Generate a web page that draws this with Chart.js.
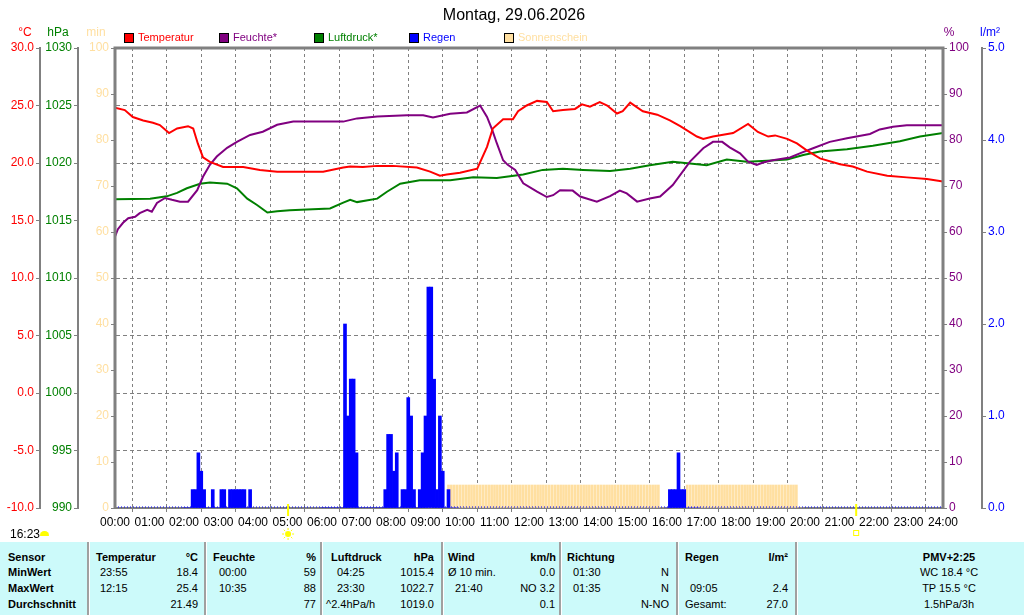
<!DOCTYPE html>
<html lang="de">
<head>
<meta charset="utf-8">
<title>Montag, 29.06.2026</title>
<script src="https://cdn.jsdelivr.net/npm/chart.js@4.4.1/dist/chart.umd.min.js"></script>
<style>
  html, body { margin: 0; padding: 0; background: #fff; }
  body { width: 1024px; height: 615px; overflow: hidden; position: relative;
         font-family: "Liberation Sans", Arial, sans-serif; color: #000; }
  #wrap { position: absolute; left: 0; top: 2px; width: 1024px; height: 542px; }
  .t { position: absolute; white-space: nowrap; font-size: 11px; line-height: 13px; }
  .c { transform: translateX(-50%); }
  .b { font-weight: bold; }
  #title { position: absolute; left: 2px; top: 6px; width: 1024px; text-align: center; font-size: 16px; }
  .unit { font-size: 12px; top: 26px; }
  .sq { position: absolute; top: 33px; width: 8px; height: 8px; border: 1px solid #000; }
  #table { position: absolute; left: 0; top: 542px; width: 1024px; height: 73px; background: #ccfafa; }
  .sep { position: absolute; top: 0; width: 2px; height: 73px; background: #a0a0a0; border-right: 1px solid #fff; }
</style>
</head>
<body>
<div id="wrap"><canvas id="chart" width="1024" height="542"></canvas></div>
<div id="title">Montag, 29.06.2026</div>
<div id="overlay"></div>
<div class="t" style="left:10px; top:528px; font-size:12px;">16:23</div>
<div style="position:absolute; left:40px; top:531px; width:9px; height:5px; background:#ffff00; border-radius:5px 5px 1px 1px;"></div>
<div id="table"></div>
<script>
// temperature (°C)
const tempTimes = ['00:00','00:17','00:31','00:49','01:06','01:18','01:34','01:48','02:07','02:16','02:24','02:33','02:45','03:08','03:43','04:12','04:42','06:02','06:37','06:49','07:11','07:36','08:03','08:45','09:08','09:25','09:37','10:00','10:30','10:47','10:57','11:15','11:32','11:41','11:56','12:14','12:31','12:42','12:59','13:20','13:32','13:46','14:03','14:16','14:33','14:43','14:56','15:18','15:43','16:05','16:23','16:52','17:03','17:20','17:55','18:21','18:38','18:56','19:08','19:29','19:46','20:03','20:26','21:01','21:23','21:48','22:23','22:57','23:32','24:00'];
const tempValues = [24.8,24.6,24.0,23.7,23.5,23.3,22.6,23.0,23.2,23.0,21.7,20.5,20.1,19.65,19.65,19.4,19.25,19.25,19.6,19.7,19.65,19.75,19.75,19.6,19.25,18.9,19.0,19.15,19.5,21.4,23.0,23.8,23.8,24.5,25.0,25.4,25.3,24.5,24.6,24.7,25.1,24.9,25.3,25.0,24.3,24.5,25.25,24.5,24.2,23.7,23.2,22.3,22.1,22.3,22.6,23.4,22.7,22.3,22.4,22.1,21.7,21.1,20.4,19.9,19.7,19.25,18.9,18.75,18.6,18.4];

// humidity (%)
const humTimes = ['00:00','00:05','00:14','00:23','00:35','00:43','00:56','01:04','01:13','01:27','01:39','01:53','02:07','02:23','02:33','02:45','02:57','03:15','03:32','03:55','04:17','04:42','05:10','06:37','07:01','07:36','08:28','08:56','09:13','09:43','10:12','10:35','10:47','10:56','11:04','11:15','11:23','11:36','11:50','12:14','12:31','12:42','12:54','13:16','13:29','13:58','14:21','14:38','14:50','15:08','15:30','15:48','16:10','16:40','17:03','17:20','17:36','17:49','18:07','18:21','18:36','18:47','19:04','19:34','19:51','20:14','20:43','21:13','21:53','22:10','22:33','22:57','24:00'];
const humValues = [59,60.6,62,63,63.3,64.1,64.8,64.4,66.3,67.4,67,66.6,66.6,69.1,72,74.6,76.4,78.3,79.6,81.1,81.8,83.3,84,84,84.7,85.1,85.4,85.4,84.9,85.7,86,87.5,85,82.2,79.3,75.6,74.6,73.5,70.6,68.8,67.6,68,69.1,69,67.7,66.6,67.8,69,68.4,66.6,67.3,67.7,70.2,75.3,78.2,79.6,79.6,78.4,77.1,75.3,74.6,75.1,75.6,76.2,77.1,78.2,79.6,80.4,81.3,82.3,82.9,83.2,83.2];

// air pressure (hPa)
const presTimes = ['00:00','01:01','01:30','01:48','02:05','02:28','02:45','03:15','03:32','03:50','04:07','04:25','04:42','05:04','06:14','06:37','06:49','07:01','07:36','07:53','08:16','08:50','09:43','10:23','11:04','11:50','12:24','12:59','13:34','14:21','14:56','15:30','16:10','16:40','17:09','17:44','18:19','18:54','19:29','19:57','20:26','21:13','21:58','22:45','23:20','24:00'];
const presValues = [1016.85,1016.9,1017.1,1017.4,1017.8,1018.2,1018.3,1018.2,1017.8,1016.9,1016.35,1015.7,1015.8,1015.9,1016.05,1016.55,1016.8,1016.6,1016.9,1017.5,1018.2,1018.5,1018.5,1018.75,1018.7,1019.0,1019.4,1019.5,1019.4,1019.3,1019.5,1019.8,1020.1,1019.95,1019.8,1020.3,1020.1,1020.2,1020.3,1020.7,1021.0,1021.2,1021.5,1021.9,1022.3,1022.6];

// rain (l/m² per 5 min), one row per hour, slots :00 .. :55
const rainHours = ['02','03','06','07','08','09','16'];
const rainRows = [
  [0,0,0,0.2,0.2,0.6,0.4,0.2,0,0,0.2,0],
  [0,0.2,0.2,0,0.2,0.2,0.2,0.2,0.2,0.2,0,0.2],
  [0,0,0,0,0,0,0,0,2.0,1.0,1.4,1.4],
  [0.6,0,0,0,0,0,0,0,0,0,0.2,0.8],
  [0.8,0.4,0.6,0,0.2,0.2,1.2,1.0,0.2,0,0.2,0.6],
  [1.0,2.4,2.4,1.4,0.2,1.0,0.4,0,0.2,0,0,0],
  [0,0.2,0.2,0.2,0.6,0.2,0.2,0,0,0,0,0]
];

// sunshine (min per 5 min), one row per hour
const sunHours = ['09','10','11','12','13','14','15','16','17','18','19'];
const sunRows = [
  [0,0,0,0,0,0,0,0,5,5,5,5],
  [5,5,5,5,5,5,5,5,5,5,5,5],
  [5,5,5,5,5,5,5,5,5,5,5,5],
  [5,5,5,5,5,5,5,5,5,5,5,5],
  [5,5,5,5,5,5,5,5,5,5,5,5],
  [5,5,5,5,5,5,5,5,5,5,5,5],
  [5,5,5,5,5,5,5,5,5,5,0,0],
  [0,0,0,0,0,0,0,5,5,5,5,5],
  [5,5,5,5,5,5,5,5,5,5,5,5],
  [5,5,5,5,5,5,5,5,5,5,5,5],
  [5,5,5,5,5,5,5,5,5,5,0,0]
];

const sunrise = '05:01';
const sunset = '21:29';

const seriesLabels = ['Temperatur', 'Feuchte*', 'Luftdruck*', 'Regen', 'Sonnenschein'];
const seriesColors = ['#ff0000', '#800080', '#008000', '#0000ff', '#ffdfa0'];

function toMin(t) {
    const p = t.split(':');
    return parseInt(p[0], 10) * 60 + parseInt(p[1], 10);
}
function pairs(times, values) {
    return times.map((t, i) => ({ x: toMin(t), y: values[i] }));
}
function slots(hours, rows) {
    const out = [];
    hours.forEach((h, i) => {
        rows[i].forEach((v, j) => out.push({ x: parseInt(h, 10) * 60 + j * 5, y: v }));
    });
    return out;
}

Chart.defaults.font.family = "'Liberation Sans', Arial, sans-serif";
Chart.defaults.font.size = 12;

const GRAY = '#808080';
const fitWidth = w => s => { s.width = w; s.paddingTop = 0; s.paddingBottom = 0; };

function yAxis(pos, weight, min, max, step, color, width, digits, onChart) {
    return {
        type: 'linear', position: pos, weight: weight, min: min, max: max,
        ticks: { stepSize: step, color: color, padding: 2,
                 callback: v => v.toFixed(digits) },
        grid: { drawOnChartArea: onChart, color: GRAY, lineWidth: 1, tickLength: 4,
                tickColor: GRAY, tickWidth: 1, tickBorderDash: [] },
        border: { display: true, color: GRAY, width: 2, dash: [4, 3] },
        afterFit: fitWidth(width)
    };
}

const decor = {
    id: 'decor',
    afterDraw(chart) {
        const { ctx, chartArea: a, scales } = chart;
        ctx.save();
        // rain zero line
        const y0 = scales.rain.getPixelForValue(0) - 1;
        ctx.strokeStyle = seriesColors[3];
        ctx.lineWidth = 1;
        ctx.setLineDash([1, 2]);
        ctx.beginPath(); ctx.moveTo(a.left, y0); ctx.lineTo(a.right, y0); ctx.stroke();
        ctx.setLineDash([]);
        // frame
        ctx.strokeStyle = GRAY;
        ctx.lineWidth = 3;
        ctx.beginPath();
        ctx.moveTo(a.left, a.bottom); ctx.lineTo(a.left, a.top);
        ctx.lineTo(a.right, a.top); ctx.lineTo(a.right, a.bottom);
        ctx.stroke();
        // sunrise and sunset marks
        const xr = scales.x.getPixelForValue(toMin(sunrise));
        const xs = scales.x.getPixelForValue(toMin(sunset));
        ctx.strokeStyle = '#ffff00';
        ctx.lineWidth = 2;
        [xr, xs].forEach(x => {
            ctx.beginPath(); ctx.moveTo(x, a.bottom - 4); ctx.lineTo(x, a.bottom + 8); ctx.stroke();
        });
        const iy = a.bottom + 26;
        ctx.fillStyle = '#ffff00';
        ctx.beginPath(); ctx.arc(xr, iy, 3, 0, Math.PI * 2); ctx.fill();
        ctx.lineWidth = 1;
        for (let k = 0; k < 8; k++) {
            const ang = k * Math.PI / 4;
            ctx.beginPath();
            ctx.moveTo(xr + Math.cos(ang) * 4, iy + Math.sin(ang) * 4);
            ctx.lineTo(xr + Math.cos(ang) * 6, iy + Math.sin(ang) * 6);
            ctx.stroke();
        }
        ctx.strokeRect(xs - 2.5, iy - 3.5, 5, 5);
        ctx.restore();
    }
};

new Chart(document.getElementById('chart').getContext('2d'), {
    type: 'line',
    data: {
        datasets: [
            { label: seriesLabels[0], data: pairs(tempTimes, tempValues), yAxisID: 'temp',
              borderColor: seriesColors[0], borderWidth: 2, pointRadius: 0, tension: 0, order: 0 },
            { label: seriesLabels[1], data: pairs(humTimes, humValues), yAxisID: 'hum',
              borderColor: seriesColors[1], borderWidth: 2, pointRadius: 0, tension: 0, order: 0 },
            { label: seriesLabels[2], data: pairs(presTimes, presValues), yAxisID: 'pres',
              borderColor: seriesColors[2], borderWidth: 2, pointRadius: 0, tension: 0, order: 0 },
            { type: 'bar', label: seriesLabels[3], data: slots(rainHours, rainRows), yAxisID: 'rain',
              backgroundColor: seriesColors[3], borderWidth: 0, barThickness: 3, grouped: false, order: 1 },
            { type: 'bar', label: seriesLabels[4], data: slots(sunHours, sunRows), yAxisID: 'sun',
              backgroundColor: seriesColors[4], borderWidth: 0, barThickness: 2, grouped: false, order: 2 }
        ]
    },
    options: {
        responsive: false,
        animation: false,
        events: [],
        layout: { padding: { top: 46, left: 0, right: 0, bottom: 0 } },
        plugins: { legend: { display: false }, title: { display: false }, tooltip: { enabled: false } },
        scales: {
            x: {
                type: 'linear', min: 0, max: 1440, offset: false,
                ticks: { stepSize: 60, autoSkip: false, maxRotation: 0, color: '#000', padding: 3,
                         callback: v => String(Math.floor(v / 60)).padStart(2, '0') + ':00' },
                grid: { color: GRAY, lineWidth: 1, tickLength: 4, tickColor: GRAY, tickWidth: 1, tickBorderDash: [] },
                border: { display: true, color: GRAY, width: 2, dash: [3, 3] },
                afterFit: s => { s.height = 36; s.paddingLeft = 0; s.paddingRight = 0; }
            },
            temp: yAxis('left', 3, -10, 30, 5, seriesColors[0], 40, 1, true),
            pres: yAxis('left', 2, 990, 1030, 5, seriesColors[2], 38, 0, false),
            sun:  yAxis('left', 1, 0, 100, 10, seriesColors[4], 37, 0, false),
            hum:  yAxis('right', 1, 0, 100, 10, seriesColors[1], 39, 0, false),
            rain: yAxis('right', 2, 0, 5, 1, seriesColors[3], 42, 1, false)
        }
    },
    plugins: [decor]
});

// units and legend
const overlay = document.getElementById('overlay');
function addText(parent, text, x, top, cls, color) {
    const d = document.createElement('div');
    d.className = 't ' + (cls || '');
    d.textContent = text;
    d.style.left = x + 'px';
    d.style.top = top + 'px';
    if (color) d.style.color = color;
    parent.appendChild(d);
    return d;
}
[['°C', 25, seriesColors[0]], ['hPa', 58, seriesColors[2]], ['min', 96, seriesColors[4]],
 ['%', 949, seriesColors[1]], ['l/m²', 990, seriesColors[3]]].forEach(u => {
    addText(overlay, u[0], u[1], 26, 'c unit', u[2]);
});
const legendX = [124, 219, 314, 409, 504];
seriesLabels.forEach((lab, i) => {
    const sq = document.createElement('div');
    sq.className = 'sq';
    sq.style.left = legendX[i] + 'px';
    sq.style.background = seriesColors[i];
    overlay.appendChild(sq);
    addText(overlay, lab, legendX[i] + 14, 31, '', seriesColors[i]);
});

// statistics table
const table = document.getElementById('table');
[87, 204, 320, 441, 559, 676, 795].forEach(x => {
    const s = document.createElement('div');
    s.className = 'sep';
    s.style.left = x + 'px';
    table.appendChild(s);
});
const rowTop = [9, 24, 40, 56];
const cells = [
    ['Sensor', 8, 0, 'l', 1], ['Temperatur', 96, 0, 'l', 1], ['°C', 198, 0, 'r', 1],
    ['Feuchte', 213, 0, 'l', 1], ['%', 316, 0, 'r', 1], ['Luftdruck', 331, 0, 'l', 1], ['hPa', 434, 0, 'r', 1],
    ['Wind', 448, 0, 'l', 1], ['km/h', 556, 0, 'r', 1], ['Richtung', 567, 0, 'l', 1],
    ['Regen', 685, 0, 'l', 1], ['l/m²', 788, 0, 'r', 1], ['PMV+2:25', 949, 0, 'c', 1],

    ['MinWert', 8, 1, 'l', 1], ['23:55', 100, 1, 'l'], ['18.4', 198, 1, 'r'], ['00:00', 219, 1, 'l'], ['59', 316, 1, 'r'],
    ['04:25', 337, 1, 'l'], ['1015.4', 434, 1, 'r'], ['Ø 10 min.', 448, 1, 'l'], ['0.0', 555, 1, 'r'],
    ['01:30', 573, 1, 'l'], ['N', 669, 1, 'r'], ['WC 18.4 °C', 949, 1, 'c'],

    ['MaxWert', 8, 2, 'l', 1], ['12:15', 100, 2, 'l'], ['25.4', 198, 2, 'r'], ['10:35', 219, 2, 'l'], ['88', 316, 2, 'r'],
    ['23:30', 337, 2, 'l'], ['1022.7', 434, 2, 'r'], ['21:40', 455, 2, 'l'], ['NO 3.2', 555, 2, 'r'],
    ['01:35', 573, 2, 'l'], ['N', 669, 2, 'r'], ['09:05', 690, 2, 'l'], ['2.4', 788, 2, 'r'], ['TP 15.5 °C', 949, 2, 'c'],

    ['Durchschnitt', 8, 3, 'l', 1], ['21.49', 198, 3, 'r'], ['77', 316, 3, 'r'], ['^2.4hPa/h', 326, 3, 'l'],
    ['1019.0', 434, 3, 'r'], ['0.1', 555, 3, 'r'], ['N-NO', 669, 3, 'r'], ['Gesamt:', 685, 3, 'l'],
    ['27.0', 788, 3, 'r'], ['1.5hPa/3h', 949, 3, 'c']
];
cells.forEach(c => {
    const d = document.createElement('div');
    d.className = 't' + (c[4] ? ' b' : '') + (c[3] === 'c' ? ' c' : '');
    d.textContent = c[0];
    d.style.top = rowTop[c[2]] + 'px';
    if (c[3] === 'r') d.style.right = (1024 - c[1]) + 'px';
    else d.style.left = c[1] + 'px';
    table.appendChild(d);
});
</script>
</body>
</html>
